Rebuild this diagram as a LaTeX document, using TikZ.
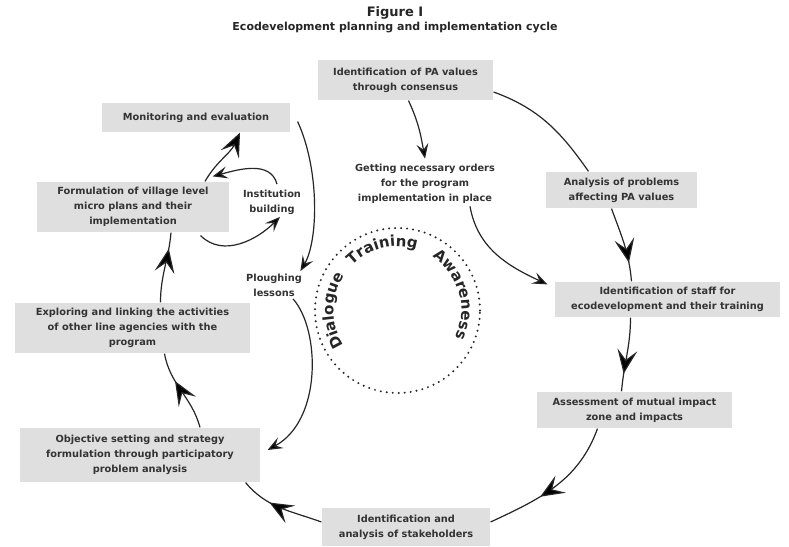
\documentclass[tikz,border=0pt]{standalone}
\usepackage{fontspec}
\setmainfont{DejaVu Sans}
\usetikzlibrary{arrows.meta,decorations.markings,decorations.text}

\newcommand\stagefont{\fontsize{9.8}{15}\selectfont\bfseries}
\newcommand\ringfont{\fontsize{15}{17}\selectfont\bfseries}

\tikzset{
  bigtip/.tip={Stealth[length=24pt,width=20pt,inset=10pt]},
  midtip/.tip={Stealth[length=15pt,width=12pt,inset=6pt]},
  stage/.style={fill=gray!25, text=black!80, font=\stagefont, align=center, inner sep=2pt},
  note/.style={text=black!80, font=\stagefont, align=center, inner sep=2pt},
  flow/.style={line width=1.2pt, postaction={decorate},
    decoration={markings, mark=at position #1 with {\arrow{bigtip}}}},
  flow/.default=0.6
}

\begin{document}
\begin{tikzpicture}[x=1pt, y=1pt, draw=black!85, line width=1.2pt]
  \fill[white] (0,0) rectangle (789,546);
  \useasboundingbox (0,0) rectangle (789,546);

  \node[text=black!85, font=\fontsize{13}{15}\selectfont\bfseries] (fig) at (395,533) {Figure I};
  \node[text=black!85, font=\fontsize{11}{13}\selectfont\bfseries] (title) at (395,518) {Ecodevelopment planning and implementation cycle};

  \node[stage, minimum width=175pt, minimum height=40pt] (pa) at (405.5,466) {Identification of PA values\\through consensus};
  \node[stage, minimum width=151pt, minimum height=36pt] (analysis) at (621.5,356) {Analysis of problems\\affecting PA values};
  \node[stage, minimum width=225pt, minimum height=35pt] (staff) at (667.5,246.5) {Identification of staff for\\ecodevelopment and their training};
  \node[stage, minimum width=195pt, minimum height=36pt] (assess) at (634.5,136) {Assessment of mutual impact\\zone and impacts};
  \node[stage, minimum width=168pt, minimum height=38pt] (stake) at (406,19) {Identification and\\analysis of stakeholders};
  \node[stage, minimum width=240pt, minimum height=54pt] (objective) at (140,91) {Objective setting and strategy\\formulation through participatory\\problem analysis};
  \node[stage, minimum width=235pt, minimum height=50pt] (explore) at (132.5,218) {Exploring and linking the activities\\of other line agencies with the\\program};
  \node[stage, minimum width=192pt, minimum height=50pt] (village) at (133,339) {Formulation of village level\\micro plans and their\\implementation};
  \node[stage, minimum width=188pt, minimum height=29pt] (monitor) at (196,428.5) {Monitoring and evaluation};

  \node[note] (orders) at (425,362) {Getting necessary orders\\for the program\\implementation in place};
  \node[note] (institution) at (272,344) {Institution\\building};
  \node[note] (plough) at (274,261) {Ploughing\\lessons};

  \draw[dash pattern=on 0pt off 6pt, line width=2.2pt, line cap=round] (397.5,235.5) circle[radius=82.5];
  \path[decorate, decoration={text along path, text align=center, text color=black!85, text={|\ringfont|Dialogue}}]
    (397.5,235.5) ++(217:64) arc[start angle=217, end angle=143, radius=64];
  \path[decorate, decoration={text along path, text align=center, text color=black!85, text={|\ringfont|Training}}]
    (397.5,235.5) ++(140:64) arc[start angle=140, end angle=68, radius=64];
  \path[decorate, decoration={text along path, text align=center, text color=black!85, text={|\ringfont|Awareness}}]
    (397.5,235.5) ++(62:64) arc[start angle=62, end angle=-30, radius=64];

  \draw ([yshift=-12pt]pa.east) to[out=-20, in=125] ([xshift=-33pt]analysis.north);
  \draw[flow=0.75] ([xshift=-10pt]analysis.south) to[out=-70, in=95] ([xshift=-36pt]staff.north);
  \draw[flow=0.76] ([xshift=-37pt]staff.south) to[out=-90, in=85] ([xshift=-13pt]assess.north);
  \draw[flow=0.62] ([xshift=-37pt]assess.south) to[out=-110, in=25] ([yshift=5pt]stake.east);
  \draw[flow=0.64] ([yshift=5pt]stake.west) to[out=160, in=-50] ([xshift=-15pt]objective.south east);
  \draw[flow=0.64] ([xshift=60pt]objective.north) to[out=105, in=-80] ([xshift=32pt]explore.south);
  \draw[flow=0.77] ([xshift=28pt]explore.north) to[out=90, in=-95] ([xshift=38pt]village.south);
  \draw[-{bigtip}] ([xshift=72pt]village.north) to[out=60, in=-115] ([xshift=44pt]monitor.south);

  \draw[-{midtip}] ([xshift=3pt]pa.south) to[out=-65, in=100] ([yshift=3pt]orders.north);
  \draw[-{midtip}] ([xshift=7pt,yshift=-4pt]monitor.east)
    .. controls +(22,-48) and +(18,31) .. ([xshift=-4pt]plough.north east);
  \draw[-{midtip}] ([xshift=19pt]plough.south)
    .. controls +(27,-30) and +(55,30) .. ([xshift=7pt,yshift=5pt]objective.east);
  \draw[-{midtip}] ([xshift=45pt]orders.south) to[out=-80, in=155] ([xshift=-7pt,yshift=-3pt]staff.north west);
  \draw[-{midtip}] ([xshift=5pt,yshift=3pt]institution.north) to[out=105, in=15] ([xshift=-17pt,yshift=5pt]village.north east);
  \draw[-{midtip}] ([xshift=-29pt,yshift=-3pt]village.south east) to[out=-45, in=-135] ([xshift=8pt]institution.south);
\end{tikzpicture}
\end{document}
